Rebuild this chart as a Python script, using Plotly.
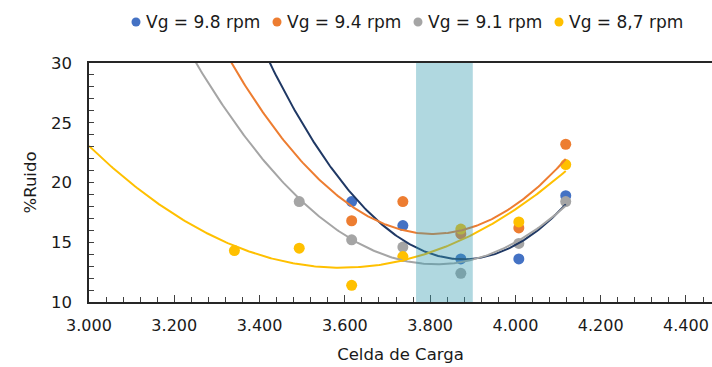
import numpy as np
import plotly.graph_objects as go

# Load-cell readings (x) and noise percentage per drum speed
carga = [3341, 3493, 3616, 3736, 3872, 4008, 4118]
ruido_98 = [None, None, 18.4, 16.4, 13.6, 13.6, 18.9]
ruido_94 = [None, None, 16.8, 18.4, 15.7, 16.2, 23.2]
ruido_91 = [None, 18.4, 15.2, 14.6, 12.4, 14.9, 18.4]
ruido_87 = [14.3, 14.5, 11.4, 13.8, 16.1, 16.7, 21.5]

nombres = ["Vg = 9.8 rpm", "Vg = 9.4 rpm", "Vg = 9.1 rpm", "Vg = 8,7 rpm"]
series = [ruido_98, ruido_94, ruido_91, ruido_87]
color_punto = ["#4472C4", "#ED7D31", "#A5A5A5", "#FFC000"]
color_tendencia = ["#1F3864", "#ED7D31", "#A5A5A5", "#FFC000"]

# Optimal operating band on the load-cell axis
banda = [3767, 3900]

x_rango = [3000, 4461]
y_rango = [10, 30]

FONT = "DejaVu Sans"
TXT = "#1a1a1a"

W, H = 712, 367
M_L, M_R, M_T, M_B = 89, 0, 63, 65

fig = go.Figure()

for nombre, ys, cp in zip(nombres, series, color_punto):
    fig.add_trace(go.Scatter(
        x=carga, y=ys, mode="markers", name=nombre, showlegend=False,
        marker=dict(color=cp, size=11),
    ))

# Second-order polynomial trendlines, forecast back to the axis start
for ys, ct in zip(series, color_tendencia):
    pares = [(x, y) for x, y in zip(carga, ys) if y is not None]
    xs = np.array([p[0] for p in pares], dtype=float)
    yv = np.array([p[1] for p in pares], dtype=float)
    coef = np.polyfit(xs, yv, 2)
    xg = np.linspace(x_rango[0], xs.max(), 300)
    fig.add_trace(go.Scatter(
        x=xg, y=np.polyval(coef, xg), mode="lines", showlegend=False,
        line=dict(color=ct, width=2), hoverinfo="skip",
    ))

fig.add_shape(
    type="rect", xref="x", yref="paper", x0=banda[0], x1=banda[1], y0=0, y1=1,
    fillcolor="rgb(57,157,177)", opacity=0.4, line=dict(width=0), layer="above",
)

# Legend row along the top (positions given in figure pixels)
ancho = W - M_L - M_R
alto = H - M_T - M_B


def px_a_paper(px, py):
    return (px - M_L) / ancho, (H - M_B - py) / alto


leg_x0, leg_paso, leg_y = 136, 141, 22
for i, (nombre, cp) in enumerate(zip(nombres, color_punto)):
    cx, cy = px_a_paper(leg_x0 + i * leg_paso, leg_y)
    fig.add_shape(
        type="circle", xref="paper", yref="paper",
        xsizemode="pixel", ysizemode="pixel", xanchor=cx, yanchor=cy,
        x0=-4.5, x1=4.5, y0=-4.5, y1=4.5,
        fillcolor=cp, line=dict(width=0),
    )
    fig.add_annotation(
        x=cx, y=cy, xref="paper", yref="paper", xshift=8,
        text=nombre, showarrow=False, xanchor="left", yanchor="middle",
        font=dict(family=FONT, size=17, color=TXT),
    )

fig.update_layout(
    width=W, height=H,
    margin=dict(l=M_L, r=M_R, t=M_T, b=M_B),
    paper_bgcolor="white", plot_bgcolor="white",
    separators=",.",
    font=dict(family=FONT, size=16, color=TXT),
    showlegend=False,
)

fig.update_xaxes(
    range=x_rango, tickmode="linear", tick0=3000, dtick=200, tickformat=",d",
    ticks="inside", ticklen=7, tickcolor="#404040", tickwidth=1,
    minor=dict(dtick=40, ticks="inside", ticklen=5, tickcolor="#404040"),
    showline=True, linecolor="#262626", linewidth=1.5, mirror=True,
    showgrid=False, zeroline=False, ticklabelstandoff=8,
    title=dict(text="Celda de Carga", font=dict(family=FONT, size=16.5, color=TXT), standoff=14),
    tickfont=dict(family=FONT, size=16, color=TXT),
)

fig.update_yaxes(
    range=y_rango, tickmode="linear", tick0=10, dtick=5,
    ticks="inside", ticklen=5, tickcolor="#404040", tickwidth=1,
    minor=dict(dtick=1, ticks="inside", ticklen=5, tickcolor="#404040"),
    showline=True, linecolor="#262626", linewidth=1.5,
    showgrid=False, zeroline=False, ticklabelstandoff=12,
    title=dict(text="%Ruido", font=dict(family=FONT, size=16.5, color=TXT), standoff=10),
    tickfont=dict(family=FONT, size=16.5, color=TXT),
)

fig.write_html("out.html")
